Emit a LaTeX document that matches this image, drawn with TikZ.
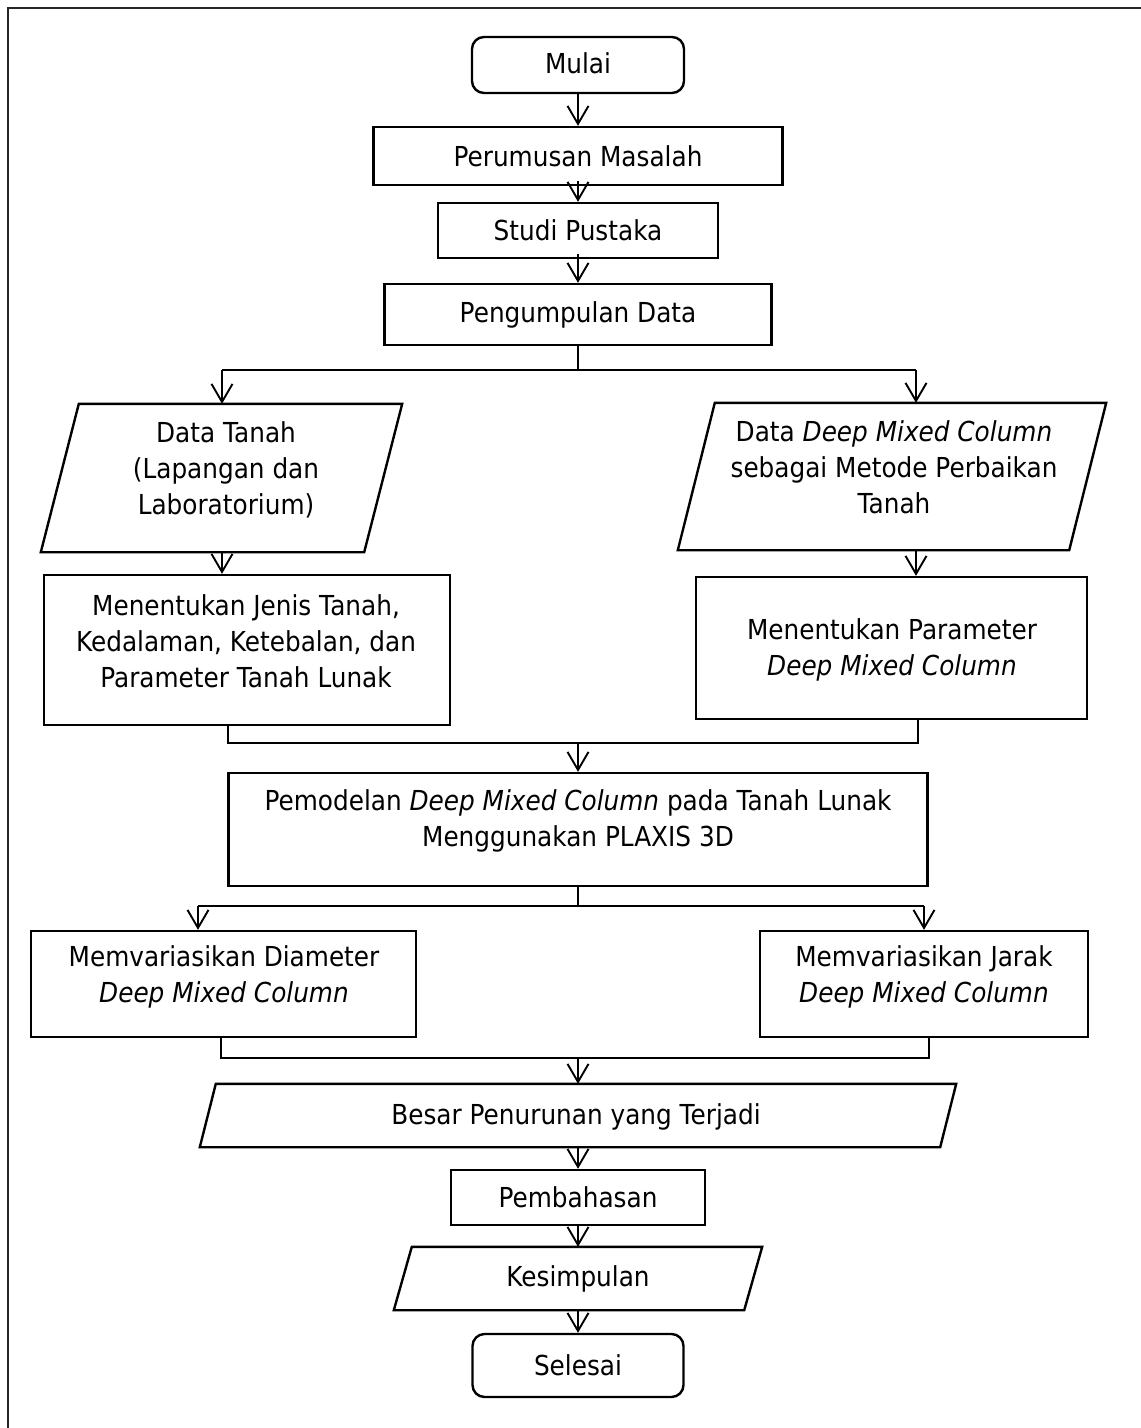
\documentclass[tikz,border=0pt]{standalone}
\usepackage{fontspec}
\setmainfont{DejaVu Sans}[FakeStretch=0.9]
\usetikzlibrary{arrows.meta,calc}
\begin{document}
\begin{tikzpicture}[x=1pt,y=-1pt,
  shp/.style={draw=black, line width=2.4pt, inner sep=0pt},
  ghost/.style={inner sep=0pt},
  term/.style={shp, rounded corners=12pt},
  pline/.style={draw=black, line width=2.4pt, line join=miter},
  txt/.style={font=\fontsize{27.5pt}{36pt}\selectfont, align=center, inner sep=0pt},
  arr/.style={line width=1.9pt, -{Straight Barb[length=18pt,width=21pt]}},
  ln/.style={line width=2.4pt},
  frame/.style={line width=2.2pt, draw=black!85}]
\path[use as bounding box] (0,0) rectangle (1141,1428);
\draw[frame] (8,1428) -- (8,8) -- (1141,8);

% main column
\node[term, minimum width=212pt, minimum height=56pt] (mulai) at (578,65) {};
\node[shp, minimum width=409pt, minimum height=58pt] (perumusan) at (578,156) {};
\node[shp, minimum width=280pt, minimum height=55pt] (studi) at (578,230.5) {};
\node[shp, minimum width=387pt, minimum height=61pt] (pengumpulan) at (578,314.5) {};

% parallelograms (data)
\node[ghost, minimum width=361pt, minimum height=148pt] (dt) at (221.5,478) {};
\draw[pline] ([xshift=38pt]dt.north west) -- (dt.north east) -- ([xshift=-38pt]dt.south east) -- (dt.south west) -- cycle;
\node[ghost, minimum width=428pt, minimum height=147pt] (ddmc) at (892,476.5) {};
\draw[pline] ([xshift=37pt]ddmc.north west) -- (ddmc.north east) -- ([xshift=-37pt]ddmc.south east) -- (ddmc.south west) -- cycle;

\node[shp, minimum width=406pt, minimum height=150pt] (mj) at (247,650) {};
\node[shp, minimum width=391pt, minimum height=142pt] (mp) at (891.5,648) {};

\node[shp, minimum width=699pt, minimum height=113pt] (pemodelan) at (578,829.5) {};

\node[shp, minimum width=385pt, minimum height=106pt] (mvd) at (223.5,984) {};
\node[shp, minimum width=328pt, minimum height=106pt] (mvj) at (924,984) {};

\node[ghost, minimum width=756pt, minimum height=63pt] (besar) at (578,1115.5) {};
\draw[pline] ([xshift=16pt]besar.north west) -- (besar.north east) -- ([xshift=-16pt]besar.south east) -- (besar.south west) -- cycle;

\node[shp, minimum width=254pt, minimum height=55pt] (pembahasan) at (578,1197.5) {};

\node[ghost, minimum width=368pt, minimum height=63pt] (kesimpulan) at (578,1278.5) {};
\draw[pline] ([xshift=18pt]kesimpulan.north west) -- (kesimpulan.north east) -- ([xshift=-18pt]kesimpulan.south east) -- (kesimpulan.south west) -- cycle;

\node[term, minimum width=211pt, minimum height=63pt] (selesai) at (578,1365.5) {};

% texts
\node[txt] (t-mulai) at (578,63) {Mulai};
\node[txt] (t-perumusan) at (perumusan.center) {Perumusan Masalah};
\node[txt] (t-studi) at (studi.center) {Studi Pustaka};
\node[txt] (t-pengumpulan) at (pengumpulan.center) {Pengumpulan Data};
\node[txt] (t-dt) at (226,470) {Data Tanah\\(Lapangan dan\\Laboratorium)};
\node[txt] (t-ddmc) at (894,467) {Data \textit{Deep Mixed Column}\\sebagai Metode Perbaikan\\Tanah};
\node[txt] (t-mj) at (246,641) {Menentukan Jenis Tanah,\\Kedalaman, Ketebalan, dan\\Parameter Tanah Lunak};
\node[txt] (t-mp) at (892,649.5) {Menentukan Parameter\\\textit{Deep Mixed Column}};
\node[txt] (t-pemodelan) at (578,820.5) {Pemodelan \textit{Deep Mixed Column} pada Tanah Lunak\\Menggunakan PLAXIS 3D};
\node[txt] (t-mvd) at (224,976.5) {Memvariasikan Diameter\\\textit{Deep Mixed Column}};
\node[txt] (t-mvj) at (924,976.5) {Memvariasikan Jarak\\\textit{Deep Mixed Column}};
\node[txt] (t-besar) at (576,1117) {Besar Penurunan yang Terjadi};
\node[txt] (t-pembahasan) at (pembahasan.center) {Pembahasan};
\node[txt] (t-kesimpulan) at (578,1279) {Kesimpulan};
\node[txt] (t-selesai) at (selesai.center) {Selesai};

% connectors
\draw[arr] (mulai.south) -- (perumusan.north);
\draw[arr] ([yshift=5pt]perumusan.south) -- (studi.north);
\draw[arr] ([yshift=5pt]studi.south) -- (pengumpulan.north);

\coordinate (s1) at (578,370);
\coordinate (s1l) at (222,370);
\coordinate (s1r) at (916,370);
\draw[ln] (pengumpulan.south) -- (s1);
\draw[ln] (s1l) -- (s1r);
\draw[arr] (s1l) -- (s1l |- dt.north);
\draw[arr] (s1r) -- (s1r |- ddmc.north);
\draw[arr] (s1l |- dt.south) -- (s1l |- mj.north);
\draw[arr] (s1r |- ddmc.south) -- (s1r |- mp.north);

\coordinate (m1) at (578,743);
\coordinate (m1l) at (228,743);
\coordinate (m1r) at (918,743);
\draw[ln] (m1l |- mj.south) -- (m1l) -- (m1r) -- (m1r |- mp.south);
\draw[arr] (m1) -- (pemodelan.north);

\coordinate (s2) at (578,906);
\coordinate (s2l) at (198,906);
\coordinate (s2r) at (924,906);
\draw[ln] (pemodelan.south) -- (s2);
\draw[ln] (s2l) -- (s2r);
\draw[arr] (s2l) -- (s2l |- mvd.north);
\draw[arr] (s2r) -- (s2r |- mvj.north);

\coordinate (m2) at (578,1058);
\coordinate (m2l) at (221,1058);
\coordinate (m2r) at (929,1058);
\draw[ln] (m2l |- mvd.south) -- (m2l) -- (m2r) -- (m2r |- mvj.south);
\draw[arr] (m2) -- (besar.north);

\draw[arr] (besar.south) -- (pembahasan.north);
\draw[arr] (pembahasan.south) -- (kesimpulan.north);
\draw[arr] (kesimpulan.south) -- (selesai.north);
\end{tikzpicture}
\end{document}
